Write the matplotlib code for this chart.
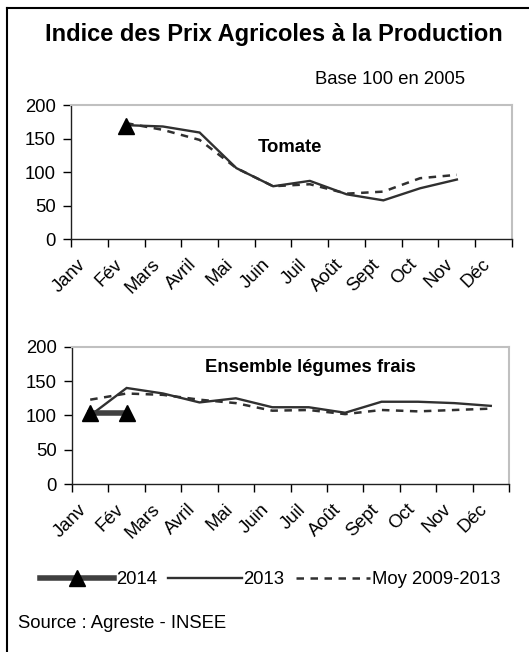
import matplotlib.pyplot as plt
import numpy as np

plt.rcParams['font.family'] = ['Liberation Sans', 'DejaVu Sans']

# Data (index 100 = 2005)
mois = ["Janv", "Fév", "Mars", "Avril", "Mai", "Juin", "Juil", "Août",
        "Sept", "Oct", "Nov", "Déc"]
nan = np.nan
tomate_2014 = [nan, 169, nan, nan, nan, nan, nan, nan, nan, nan, nan, nan]
tomate_2013 = [nan, 170, 168, 159, 106, 79, 87, 67, 58, 76, 89, nan]
tomate_moy = [nan, 173, 163, 148, 106, 79, 82, 68, 71, 91, 96, nan]
legumes_2014 = [103, 103, nan, nan, nan, nan, nan, nan, nan, nan, nan, nan]
legumes_2013 = [100, 140, 132, 119, 125, 112, 112, 104, 120, 120, 118, 114]
legumes_moy = [123, 132, 130, 123, 118, 107, 108, 102, 108, 106, 108, 110]

W, H = 529, 652
fig = plt.figure(figsize=(W / 100, H / 100), dpi=100)
FS = 13.3


def draw(ax, s2014, s2013, smoy, label, lx, ly):
    x = np.arange(len(mois)) + 0.5
    l13, = ax.plot(x, s2013, color='#303030', lw=1.7, solid_joinstyle='miter')
    lmoy, = ax.plot(x, smoy, color='#303030', lw=1.8, ls=(0, (3, 2.6)))
    l14, = ax.plot(x, s2014, color='#404040', lw=4, marker='^', ms=11,
                   mfc='black', mec='black')
    ax.set_xlim(0, 12)
    ax.set_ylim(0, 200)
    ax.set_yticks([0, 50, 100, 150, 200])
    ax.set_xticks(np.arange(13))
    ax.set_xticks(x, minor=True)
    ax.set_xticklabels([])
    ax.set_xticklabels(mois, minor=True, rotation=45, ha='right', va='top',
                       rotation_mode='default')
    ax.tick_params(axis='x', which='major', length=6, width=1, direction='out')
    ax.tick_params(axis='x', which='minor', length=0, pad=12, labelsize=FS)
    ax.tick_params(axis='y', length=6, width=1, pad=5, labelsize=FS)
    for s in ['top', 'right']:
        ax.spines[s].set_color('#c0c0c0')
        ax.spines[s].set_linewidth(1.5)
    for s in ['left', 'bottom']:
        ax.spines[s].set_color('#202020')
        ax.spines[s].set_linewidth(1)
    ax.text(lx, ly, label, fontsize=FS, fontweight='bold', ha='center',
            va='center')
    return l14, l13, lmoy


ax1 = fig.add_axes([71 / W, 1 - 239.3 / H, (512 - 71) / W, (239.3 - 105) / H])
handles = draw(ax1, tomate_2014, tomate_2013, tomate_moy, "Tomate", 5.96, 137)

ax2 = fig.add_axes([72 / W, 1 - 484.3 / H, (509 - 72) / W, (484.3 - 346.7) / H])
draw(ax2, legumes_2014, legumes_2013, legumes_moy, "Ensemble légumes frais",
     6.56, 170)

fig.text(274 / W, 1 - 35 / H, "Indice des Prix Agricoles à la Production",
         fontsize=17, fontweight='bold', ha='center', va='center')
fig.text(390 / W, 1 - 79 / H, "Base 100 en 2005", fontsize=FS,
         ha='center', va='center')
fig.text(18 / W, 1 - 623 / H, "Source : Agreste - INSEE", fontsize=FS,
         ha='left', va='center')

fig.legend(handles, ["2014", "2013", "Moy 2009-2013"], loc='center',
           bbox_to_anchor=(270 / W, 1 - 580 / H), ncol=3, frameon=False,
           fontsize=FS, handlelength=4.0, handletextpad=0.1,
           columnspacing=0.6, borderpad=0)

# outer frame (left and top edges visible)
fig.add_artist(plt.Line2D([6.5 / W, 6.5 / W], [0, 1 - 8 / H], color='black',
                          lw=1.5, transform=fig.transFigure))
fig.add_artist(plt.Line2D([6.5 / W, 1], [1 - 8 / H, 1 - 8 / H], color='black',
                          lw=1.5, transform=fig.transFigure))

fig.savefig("out.png", dpi=100)
